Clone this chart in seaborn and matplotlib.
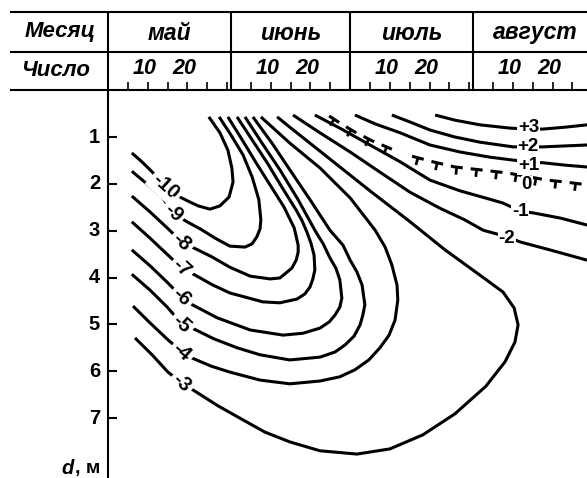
import numpy as np
import pandas as pd
import matplotlib
matplotlib.use('Agg')
import matplotlib.pyplot as plt
import seaborn as sns

# ---------------- data ----------------
# x: days counted from 30 April (0 = start of May), y: depth, m
months = ['май', 'июнь', 'июль', 'август']
month_start = [0, 31, 61, 92]
month_len = [31, 30, 31, 31]
day_labels = [10, 20]
depth_ticks = [1, 2, 3, 4, 5, 6, 7]

iso_m10_day = [6.0, 8.3, 10.6, 14.6, 18.1, 20.2, 22.7, 25.7, 28.2, 30.5, 31.5, 31.2, 30.2, 28.2, 25.4]
iso_m10_dep = [1.34, 1.51, 1.70, 2.05, 2.28, 2.37, 2.47, 2.54, 2.47, 2.28, 1.96, 1.66, 1.28, 0.91, 0.57]

iso_m9_day = [6.0, 9.8, 13.6, 16.4, 19.9, 23.2, 27.0, 30.7, 34.5, 36.3, 37.5, 38.3, 38.5, 38.0, 36.3, 34.0, 31.0, 28.0]
iso_m9_dep = [1.73, 2.00, 2.28, 2.62, 2.81, 2.96, 3.16, 3.33, 3.35, 3.28, 3.13, 2.96, 2.77, 2.34, 1.85, 1.38, 0.96, 0.57]

iso_m8_day = [6.0, 10.6, 14.9, 18.6, 21.9, 26.2, 30.7, 35.8, 40.8, 43.3, 46.3, 47.4, 47.9, 47.9, 46.9, 44.3, 40.8, 37.3, 33.8, 30.2]
iso_m8_dep = [2.26, 2.60, 2.94, 3.24, 3.38, 3.56, 3.78, 3.97, 4.03, 4.01, 3.80, 3.63, 3.46, 3.31, 2.94, 2.49, 2.02, 1.55, 1.06, 0.57]

iso_m7_day = [6.0, 10.6, 15.1, 18.6, 22.4, 26.4, 30.7, 39.0, 43.3, 47.6, 49.6, 50.9, 51.6, 52.1, 51.9, 51.1, 50.1,
              48.9, 47.4, 43.8, 40.1, 36.3, 32.5]
iso_m7_dep = [2.81, 3.16, 3.52, 3.80, 3.97, 4.16, 4.33, 4.52, 4.54, 4.46, 4.35, 4.20, 4.03, 3.84, 3.52, 3.26, 3.03,
              2.79, 2.56, 2.07, 1.55, 1.06, 0.57]

iso_m6_day = [6.0, 10.6, 14.9, 18.6, 21.2, 27.5, 35.8, 44.1, 49.1, 53.4, 55.7, 57.2, 58.4, 58.9, 58.4, 57.4, 55.9,
              54.2, 52.1, 47.9, 43.3, 38.8, 34.5]
iso_m6_dep = [3.41, 3.75, 4.10, 4.42, 4.58, 4.86, 5.12, 5.23, 5.19, 5.08, 4.95, 4.80, 4.63, 4.44, 4.05, 3.80, 3.58,
              3.28, 2.99, 2.34, 1.70, 1.13, 0.57]

iso_m5_day = [6.0, 10.6, 14.9, 18.6, 21.2, 26.7, 32.5, 38.3, 45.8, 53.4, 57.2, 59.7, 62.0, 63.5, 64.2, 64.7, 64.0,
              62.7, 61.0, 59.2, 55.9, 50.9, 45.8, 41.3, 36.5]
iso_m5_dep = [3.93, 4.27, 4.63, 4.99, 5.08, 5.31, 5.50, 5.65, 5.76, 5.70, 5.59, 5.44, 5.25, 5.01, 4.80, 4.58, 4.16,
              3.88, 3.63, 3.31, 2.99, 2.34, 1.70, 1.13, 0.57]

iso_m4_day = [6.3, 10.6, 15.1, 18.6, 21.2, 25.9, 30.7, 38.3, 45.8, 53.4, 58.4, 62.2, 65.7, 68.5, 70.8, 72.3, 73.0,
              72.8, 71.5, 69.8, 67.3, 61.0, 53.4, 45.8, 38.5]
iso_m4_dep = [4.61, 4.97, 5.33, 5.59, 5.72, 5.89, 6.02, 6.19, 6.27, 6.21, 6.12, 5.97, 5.76, 5.50, 5.23, 4.91, 4.48,
              4.16, 3.73, 3.35, 2.99, 2.30, 1.66, 1.13, 0.57]

iso_m3_day = [6.8, 11.1, 15.1, 18.6, 21.4, 27.7, 34.0, 39.5, 45.8, 53.4, 62.7, 71.0, 79.3, 87.4, 95.2, 100.0,
              102.5, 103.3, 102.3, 99.5, 93.7, 84.9, 76.1, 66.0, 55.9, 45.8, 42.6]
iso_m3_dep = [5.29, 5.65, 6.02, 6.25, 6.40, 6.74, 7.04, 7.30, 7.51, 7.70, 7.77, 7.66, 7.36, 6.91, 6.32, 5.80,
              5.38, 5.01, 4.65, 4.31, 3.95, 3.41, 2.81, 2.15, 1.47, 0.79, 0.57]

iso_m2_day = [46.6, 53.4, 61.0, 68.5, 76.1, 83.6, 89.9, 94.5, 100.5, 103.8, 111.3, 120.7]
iso_m2_dep = [0.53, 0.91, 1.32, 1.75, 2.18, 2.52, 2.77, 2.99, 3.13, 3.24, 3.41, 3.63]

iso_m1_day = [52.1, 58.4, 66.0, 73.6, 81.1, 88.7, 95.0, 99.5, 103.8, 107.1, 113.9, 120.7]
iso_m1_dep = [0.53, 0.81, 1.17, 1.53, 1.92, 2.15, 2.30, 2.41, 2.58, 2.62, 2.73, 2.88]

iso_0_day = [55.7, 58.4, 61.7, 66.5, 71.5, 76.6, 81.9, 87.4, 93.7, 100.8, 110.6, 115.1, 120.7]
iso_0_dep = [0.55, 0.70, 0.87, 1.08, 1.26, 1.41, 1.53, 1.64, 1.70, 1.77, 1.92, 1.96, 2.02]

iso_p1_day = [62.2, 67.3, 73.6, 81.1, 88.7, 96.2, 101.8, 105.8, 109.6, 115.1, 120.7]
iso_p1_dep = [0.53, 0.72, 0.91, 1.17, 1.32, 1.43, 1.49, 1.53, 1.55, 1.60, 1.64]

iso_p2_day = [71.5, 76.1, 81.1, 87.4, 93.7, 102.0, 105.8, 109.6, 115.1, 120.7]
iso_p2_dep = [0.53, 0.68, 0.85, 1.00, 1.11, 1.21, 1.21, 1.21, 1.19, 1.17]

iso_p3_day = [82.4, 87.4, 93.7, 101.3, 106.0, 109.6, 115.1, 120.7]
iso_p3_dep = [0.53, 0.64, 0.74, 0.81, 0.83, 0.83, 0.79, 0.74]

# isotherm labels
neg_labels = ['-10', '-9', '-8', '-7', '-6', '-5', '-4', '-3']
neg_lab_day = [14.6, 16.4, 18.6, 18.6, 18.6, 18.6, 18.6, 18.6]
neg_lab_dep = [2.05, 2.62, 3.24, 3.80, 4.42, 4.99, 5.59, 6.25]

pos_labels = ['+3', '+2', '+1', '0', '-1', '-2']
pos_lab_day = [106.0, 105.8, 106.0, 105.5, 103.8, 100.5]
pos_lab_dep = [0.80, 1.21, 1.61, 2.02, 2.58, 3.16]

# ---------------- style / layout ----------------
sns.set_theme(style='white')
plt.rcParams['font.family'] = ['Liberation Sans', 'DejaVu Sans']
plt.rcParams['lines.scale_dashes'] = False

PX_DAY = 3.97      # pixels per day
PX_M = 46.83       # pixels per metre
X0 = -108 / PX_DAY
X1 = (587 - 108) / PX_DAY
Y_TOP = -90.2 / PX_M
Y_BOT = (478 - 90.2) / PX_M

fig = plt.figure(figsize=(5.87, 4.78), dpi=100)
ax = fig.add_axes([0, 0, 1, 1])

LW = 2.2
FRAME_LW = 1.5
K = 'black'

curves = {
    '-10': (iso_m10_day, iso_m10_dep), '-9': (iso_m9_day, iso_m9_dep),
    '-8': (iso_m8_day, iso_m8_dep), '-7': (iso_m7_day, iso_m7_dep),
    '-6': (iso_m6_day, iso_m6_dep), '-5': (iso_m5_day, iso_m5_dep),
    '-4': (iso_m4_day, iso_m4_dep), '-3': (iso_m3_day, iso_m3_dep),
    '-2': (iso_m2_day, iso_m2_dep), '-1': (iso_m1_day, iso_m1_dep),
    '+1': (iso_p1_day, iso_p1_dep), '+2': (iso_p2_day, iso_p2_dep),
    '+3': (iso_p3_day, iso_p3_dep),
}
frames = []
for name, (xs, ys) in curves.items():
    frames.append(pd.DataFrame({'day': xs, 'depth': ys, 'iso': name}))
df = pd.concat(frames, ignore_index=True)

sns.lineplot(data=df, x='day', y='depth', units='iso', estimator=None, sort=False,
             color=K, linewidth=LW, ax=ax, legend=False,
             solid_joinstyle='round', solid_capstyle='butt')
ax.set_xlim(X0, X1)
ax.set_ylim(Y_BOT, Y_TOP)
ax.axis('off')

# ---- 0 isotherm: dashes with ticks (T marks), split at label ----
zd = np.array(iso_0_day)
zy = np.array(iso_0_dep)
gap_idx = np.where(np.diff(zd) > 5)[0][0] + 1
zero_parts = [(zd[:gap_idx], zy[:gap_idx]), (zd[gap_idx:], zy[gap_idx:])]

fig.canvas.draw()
inv = ax.transData.inverted()


def draw_tline(xs, ys, dash=12.0, gap=8.0, stem=7.5):
    pts = ax.transData.transform(np.column_stack([xs, ys]))
    seg = np.diff(pts, axis=0)
    seglen = np.hypot(seg[:, 0], seg[:, 1])
    cum = np.concatenate([[0], np.cumsum(seglen)])
    total = cum[-1]

    def point_at(t):
        i = int(np.searchsorted(cum, t, side='right') - 1)
        i = min(max(i, 0), len(seg) - 1)
        f = (t - cum[i]) / seglen[i]
        return pts[i] + f * seg[i], seg[i] / seglen[i]

    s = 0.0
    while s < total - 2:
        a, b = s, min(s + dash, total)
        ts = np.concatenate([[a], cum[(cum > a) & (cum < b)], [b]])
        P = np.array([point_at(t)[0] for t in ts])
        D = inv.transform(P)
        ax.plot(D[:, 0], D[:, 1], color=K, lw=LW, solid_capstyle='butt')
        c, tang = point_at((a + b) / 2)
        normal = np.array([tang[1], -tang[0]])
        S = inv.transform(np.array([c, c + normal * stem]))
        ax.plot(S[:, 0], S[:, 1], color=K, lw=LW * 0.9, solid_capstyle='butt')
        s += dash + gap


for xs, ys in zero_parts:
    draw_tline(xs, ys)

# ---- isotherm labels ----
box = dict(boxstyle='square,pad=0.15', fc='white', ec='none')
for t, x, y in zip(neg_labels, neg_lab_day, neg_lab_dep):
    ax.text(x, y, t, rotation=-42, rotation_mode='anchor', ha='center', va='center',
            fontsize=14.5, fontweight='bold', color=K, bbox=box, zorder=5)
for t, x, y in zip(pos_labels, pos_lab_day, pos_lab_dep):
    ax.text(x, y, t, ha='center', va='center', fontsize=13.5, fontweight='bold', color=K,
            bbox=dict(boxstyle='square,pad=0.04', fc='white', ec='none'), zorder=5)

# ---- header table ----
H_TOP = (12 - 90.2) / PX_M
H_MID = (52 - 90.2) / PX_M
H_LEFT = (10 - 108) / PX_DAY
for yy in (H_TOP, H_MID, 0.0):
    ax.plot([H_LEFT, X1], [yy, yy], color=K, lw=FRAME_LW, solid_capstyle='butt')
for s in month_start[1:]:
    ax.plot([s, s], [H_TOP, 0.0], color=K, lw=FRAME_LW, solid_capstyle='butt')
ax.plot([0, 0], [H_TOP, Y_BOT], color=K, lw=FRAME_LW, solid_capstyle='butt')

TICK_H = 8 / PX_M
for s, n in zip(month_start, month_len):
    for d in range(5, n, 5):
        if s + d < X1:
            ax.plot([s + d, s + d], [0.0, -TICK_H], color=K, lw=1.2, solid_capstyle='butt')
    for d in day_labels:
        ax.text(s + d - 0.8, (69 - 90.2) / PX_M, str(d), ha='center', va='center',
                fontsize=15.5, style='italic', fontweight='bold', color=K)

for s, n, m in zip(month_start, month_len, months):
    ax.text(s + n / 2, (33 - 90.2) / PX_M, m, ha='center', va='center',
            fontsize=16.5, style='italic', fontweight='bold', color=K)

ax.text((60 - 108) / PX_DAY, (32 - 90.2) / PX_M, 'Месяц', ha='center', va='center',
        fontsize=16, style='italic', fontweight='bold', color=K)
ax.text((56 - 108) / PX_DAY, (71 - 90.2) / PX_M, 'Число', ha='center', va='center',
        fontsize=16, style='italic', fontweight='bold', color=K)

# ---- depth axis ----
TICK_W = 9 / PX_DAY
for k in depth_ticks:
    ax.plot([0, TICK_W], [k, k], color=K, lw=FRAME_LW, solid_capstyle='butt')
    ax.text(-2.0, k, str(k), ha='right', va='center', fontsize=14.5, fontweight='bold', color=K)

ax.text(-2.0, (468 - 90.2) / PX_M, ', м', ha='right', va='center', fontsize=14,
        fontweight='bold', color=K)
ax.text((74 - 108) / PX_DAY, (468 - 90.2) / PX_M, 'd', ha='right', va='center',
        fontsize=14.5, style='italic', fontweight='bold', color=K)

fig.savefig('out.png', dpi=100, facecolor='white')
